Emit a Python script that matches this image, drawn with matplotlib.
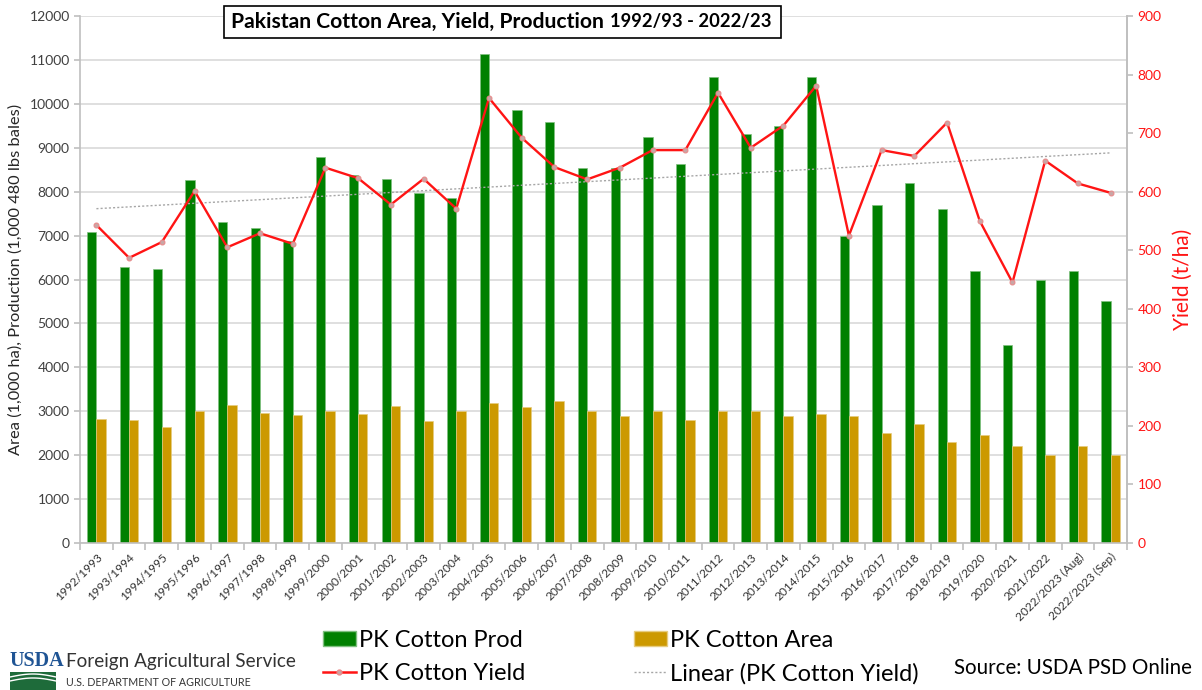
import matplotlib.pyplot as plt
import numpy as np
from matplotlib.patches import Rectangle, Patch
from matplotlib.lines import Line2D


# Pakistan cotton data
#--------------------------------------------------------------------------------

seasons = [
    "1992/1993", "1993/1994", "1994/1995", "1995/1996", "1996/1997",
    "1997/1998", "1998/1999", "1999/2000", "2000/2001", "2001/2002",
    "2002/2003", "2003/2004", "2004/2005", "2005/2006", "2006/2007",
    "2007/2008", "2008/2009", "2009/2010", "2010/2011", "2011/2012",
    "2012/2013", "2013/2014", "2014/2015", "2015/2016", "2016/2017",
    "2017/2018", "2018/2019", "2019/2020", "2020/2021", "2021/2022",
    "2022/2023 (Aug)", "2022/2023 (Sep)"
]

production = [
    7080, 6280, 6250, 8270, 7320, 7180, 6870, 8780, 8370, 8290,
    7970, 7850, 11140, 9850, 9580, 8550, 8530, 9250, 8630, 10600,
    9310, 9500, 10600, 7000, 7700, 8200, 7610, 6200, 4500, 6000,
    6200, 5500
]

area = [
    2830, 2800, 2640, 3000, 3150, 2960, 2920, 3000, 2930, 3110,
    2780, 3000, 3180, 3100, 3240, 3000, 2900, 3000, 2800, 3000,
    3000, 2900, 2940, 2900, 2500, 2700, 2300, 2450, 2200, 2000,
    2200, 2000
]

yield_t_ha = [
    543, 487, 514, 601, 505, 529, 511, 641, 623, 578,
    622, 571, 760, 692, 642, 621, 641, 671, 671, 769,
    675, 713, 781, 525, 671, 661, 718, 550, 445, 653,
    614, 598
]

GREEN = "#008000"
GOLD = "#cc9900"
RED = "#ff1414"
GRID = "#d9d9d9"
SPINE = "#bfbfbf"
TEXT = "#404040"

plt.rcParams["font.family"] = ["Lato", "DejaVu Sans"]


def plot_pakistan_cotton():

    fig = plt.figure(
        figsize=(12.02, 6.90),
        dpi=100
    )

    ax = fig.add_axes([0.0666, 0.2130, 0.8710, 0.7638])

    x = np.arange(len(seasons))

    bar_w = 0.285

    # ----------------------------------------
    # Bars (left axis)
    # ----------------------------------------

    ax.bar(
        x - bar_w / 2,
        production,
        width=bar_w,
        color=GREEN,
        edgecolor="#7fbf7f",
        linewidth=0.5,
        zorder=2
    )

    ax.bar(
        x + bar_w / 2,
        area,
        width=bar_w,
        color=GOLD,
        edgecolor="#e6cc80",
        linewidth=0.5,
        zorder=2
    )

    ax.set_xlim(-0.5, len(seasons) - 0.5)
    ax.set_ylim(0, 12000)
    ax.set_yticks(np.arange(0, 12001, 1000))

    ax.set_axisbelow(True)
    ax.yaxis.grid(True, color=GRID, linewidth=1.2)

    ax.spines["top"].set_visible(False)

    for side in ["left", "bottom", "right"]:
        ax.spines[side].set_color(SPINE)
        ax.spines[side].set_linewidth(1.2)

    ax.set_xticks(x)
    ax.set_xticklabels(
        seasons,
        rotation=45,
        ha="right",
        rotation_mode="anchor",
        fontsize=8.6,
        color="#333333"
    )
    ax.tick_params(axis="x", length=0, pad=6)

    ax.set_xticks(np.arange(-0.5, len(seasons)), minor=True)
    ax.tick_params(axis="x", which="minor", length=5, color=SPINE, width=1.2)

    ax.tick_params(axis="y", labelsize=10, labelcolor=TEXT, color=SPINE, length=4, width=1.2)

    ax.set_ylabel(
        "Area (1,000 ha), Production (1,000 480 lbs bales)",
        fontsize=11.8,
        color="#262626",
        labelpad=5
    )

    # ----------------------------------------
    # Yield line + linear trend (right axis)
    # ----------------------------------------

    ax2 = ax.twinx()

    ax2.plot(
        x,
        yield_t_ha,
        color=RED,
        linewidth=1.7,
        marker="o",
        markersize=3.5,
        markerfacecolor="#c9a6a6",
        markeredgecolor="#e88a8a",
        markeredgewidth=0.8,
        zorder=3
    )

    slope, intercept = np.polyfit(x, yield_t_ha, 1)

    ax2.plot(
        x,
        slope * x + intercept,
        color="#a6a6a6",
        linewidth=1.0,
        linestyle=(0, (1.5, 1.5)),
        zorder=2.5
    )

    ax2.set_ylim(0, 900)
    ax2.set_yticks(np.arange(0, 901, 100))
    ax2.tick_params(axis="y", labelsize=10, labelcolor=RED, color=SPINE, length=4, width=1.2)

    for side in ["top", "left", "bottom"]:
        ax2.spines[side].set_visible(False)
    ax2.spines["right"].set_color(SPINE)
    ax2.spines["right"].set_linewidth(1.2)

    ax2.set_ylabel(
        "Yield (t/ha)",
        fontsize=15,
        color=RED,
        labelpad=8
    )

    # ----------------------------------------
    # Title box
    # ----------------------------------------

    fig.patches.append(
        Rectangle(
            (224 / 1202, 1 - 38 / 690),
            557 / 1202,
            32 / 690,
            transform=fig.transFigure,
            facecolor="white",
            edgecolor="black",
            linewidth=1.2,
            zorder=5
        )
    )

    t1 = fig.text(
        231 / 1202,
        1 - 22 / 690,
        "Pakistan Cotton Area, Yield, Production",
        fontsize=15.2,
        fontweight="bold",
        va="center",
        ha="left",
        color="black",
        zorder=6
    )

    fig.canvas.draw()
    bb = t1.get_window_extent()

    fig.text(
        (bb.x1 + 6) / 1202,
        1 - 22 / 690,
        "1992/93 - 2022/23",
        fontsize=13.2,
        fontweight="bold",
        va="center",
        ha="left",
        color="black",
        zorder=6
    )

    # ----------------------------------------
    # Legend
    # ----------------------------------------

    handles = [
        Patch(facecolor=GREEN, edgecolor="#7fbf7f", label="PK Cotton Prod"),
        Line2D([], [], color=RED, linewidth=1.8, marker="o", markersize=3.5,
               markerfacecolor="#c9a6a6", markeredgecolor="#e88a8a",
               label="PK Cotton Yield"),
        Patch(facecolor=GOLD, edgecolor="#e6cc80", label="PK Cotton Area"),
        Line2D([], [], color="#a6a6a6", linewidth=1.0, linestyle=(0, (1.5, 1.5)),
               label="Linear (PK Cotton Yield)")
    ]

    fig.legend(
        handles=handles,
        ncol=2,
        loc="upper left",
        bbox_to_anchor=(311 / 1202, 1 - 618 / 690),
        frameon=False,
        fontsize=17,
        borderpad=0,
        handlelength=1.4,
        handleheight=0.65,
        handletextpad=0.13,
        columnspacing=4.6,
        labelspacing=0.5
    )

    # ----------------------------------------
    # Source + USDA FAS signature
    # ----------------------------------------

    fig.text(
        1192 / 1202,
        1 - 668 / 690,
        "Source: USDA PSD Online",
        fontsize=14.8,
        ha="right",
        va="center",
        color="black"
    )

    fig.text(
        9 / 1202,
        1 - 661 / 690,
        "USDA",
        fontsize=14.5,
        family="Liberation Serif",
        fontweight="bold",
        color="#1f5494",
        ha="left",
        va="center"
    )

    fig.patches.append(
        Rectangle(
            (10 / 1202, 0),
            46 / 1202,
            18 / 690,
            transform=fig.transFigure,
            facecolor="#1e6b3a",
            edgecolor="none"
        )
    )

    wave_x = np.linspace(10, 56, 50)
    for offset in [0, 4]:
        wave_y = 681 - offset - 3 * np.sin((wave_x - 10) / 46 * np.pi)
        fig.lines.append(
            Line2D(
                wave_x / 1202,
                1 - wave_y / 690,
                transform=fig.transFigure,
                color="white",
                linewidth=1.0
            )
        )

    fig.text(
        66 / 1202,
        1 - 662 / 690,
        "Foreign Agricultural Service",
        fontsize=13.6,
        color="#333333",
        ha="left",
        va="center"
    )

    fig.text(
        66 / 1202,
        1 - 683 / 690,
        "U.S. DEPARTMENT OF AGRICULTURE",
        fontsize=7.7,
        color="#333333",
        ha="left",
        va="center"
    )

    fig.savefig("out.png", dpi=100)

    plt.close(fig)


plot_pakistan_cotton()
